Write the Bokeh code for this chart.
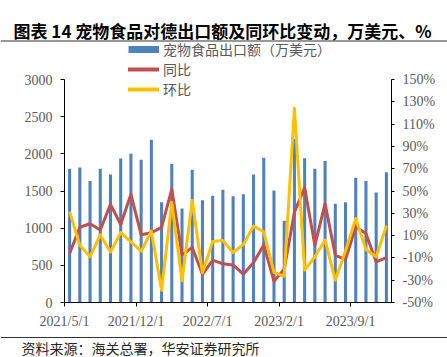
from bokeh.plotting import figure
from bokeh.models import (Range1d, LinearAxis, FixedTicker, PrintfTickFormatter,
                          Legend, LegendItem, Label, Span, ColumnDataSource)
from bokeh.core.properties import value
from bokeh.embed import file_html
from bokeh.resources import INLINE

# ---- data ----
months = [f"{y}/{m}" for y, m in
          [(2021, m) for m in range(5, 13)] + [(2022, m) for m in range(1, 13)] + [(2023, m) for m in range(1, 13)]]
export = [1800, 1817, 1633, 1800, 1723, 1938, 2000, 1920, 2189, 1347, 1867,
          1266, 1786, 1374, 1437, 1517, 1428, 1455, 1721, 1947, 1506, 1100,
          2200, 1940, 1800, 1902, 1330, 1347, 1679, 1636, 1479, 1752]
yoy = [-6, 17.5, 20.6, 15, 38, 20, 47, 10.8, 12.6, 17.4, 51.7,
       -7.5, -0.6, -24.7, -12, -15.3, -16.3, -24.6, -14.2, 1.6, -31, -20.2,
       31, 53, 1.3, 38.7, -7.6, -11.5, 17.8, 11.8, -13.6, -9.7]
mom = [31.4, 1.3, -9, 10.6, -4.7, 12.7, 4.3, -4, 14, -39, 39.6,
       -30.5, 41.6, -23.3, 4.8, 5.5, -5.2, 2.1, 18.5, 13.4, -22.9, -26.5,
       124.3, -21, -9, 6, -30, -3.7, 25.2, -2.5, -9, 18.7]
tick_pos = [0, 7, 14, 21, 28]
tick_labels = ["2021/5/1", "2021/12/1", "2022/7/1", "2023/2/1", "2023/9/1"]
left_ticks = [0, 500, 1000, 1500, 2000, 2500, 3000]
right_ticks = [-50, -30, -10, 10, 30, 50, 70, 90, 110, 130, 150]

title_text = "图表 14 宠物食品对德出口额及同环比变动，万美元、%"
source_text = "资料来源：海关总署，华安证券研究所"
names = ["宠物食品出口额（万美元）", "同比", "环比"]

n = len(months)
src = ColumnDataSource(dict(x=[i + 0.5 for i in range(n)],
                            month=months, export=export, yoy=yoy, mom=mom))

# ---- layout geometry (canvas pixels) ----
W, H = 447, 357
PL, PR, PT, PB = 64, 391, 79, 302          # plot-area edges
ymax_l, ymin_r, ymax_r = 3000, -50, 150
sx = (PR - PL) / n
sy_l = ymax_l / (PB - PT)
sy_r = (ymax_r - ymin_r) / (PB - PT)

x_range = Range1d(-PL / sx, n + (W - PR) / sx)
y_range = Range1d(-(H - PB) * sy_l, ymax_l + PT * sy_l)
pct_range = Range1d(ymin_r - (H - PB) * sy_r, ymax_r + PT * sy_r)

p = figure(width=W, height=H, output_backend="svg", toolbar_location=None,
           x_range=x_range, y_range=y_range,
           min_border_left=0, min_border_right=0, min_border_top=0, min_border_bottom=0)
p.title.visible = False
p.extra_y_ranges = {"pct": pct_range}
p.xgrid.visible = False
p.ygrid.visible = False
p.outline_line_color = None
p.background_fill_color = "white"
p.border_fill_color = "white"

serif = "Liberation Serif"
gray = "#595959"

def style_axis(ax):
    ax.axis_line_color = "black"
    ax.major_tick_line_color = "black"
    ax.minor_tick_line_color = None
    ax.major_tick_in = 0
    ax.major_tick_out = 4
    ax.major_label_text_font = serif
    ax.major_label_text_font_size = "14px"
    ax.major_label_text_color = gray

ya = p.yaxis[0]
ya.ticker = FixedTicker(ticks=left_ticks)
ya.fixed_location = 0
ya.bounds = (0, ymax_l)
style_axis(ya)
ya.major_label_standoff = 8

xa = p.xaxis[0]
xa.ticker = FixedTicker(ticks=tick_pos)
xa.major_label_overrides = {t: l for t, l in zip(tick_pos, tick_labels)}
xa.fixed_location = 0
xa.bounds = (0, n)
style_axis(xa)
xa.major_label_standoff = 7

ra = LinearAxis(y_range_name="pct", ticker=FixedTicker(ticks=right_ticks),
                formatter=PrintfTickFormatter(format="%d%%"))
ra.fixed_location = n
ra.bounds = (ymin_r, ymax_r)
style_axis(ra)
ra.major_tick_out = 3
ra.major_label_standoff = 8
p.add_layout(ra, "right")

p.vbar(x="x", top="export", width=0.3, source=src, fill_color="#4F81BD", line_color=None)
p.line(x="x", y="yoy", source=src, y_range_name="pct", line_color="#C0504D",
       line_width=3, line_join="round")
p.line(x="x", y="mom", source=src, y_range_name="pct", line_color="#FFC000",
       line_width=3, line_join="round")

# legend-only renderers (data lies outside the visible ranges)
off_x, off_y = [-1000, -999], [-1e7, -1e7]
lb = p.line(x=off_x, y=off_y, line_color="#4F81BD", line_width=7)
lr = p.line(x=off_x, y=off_y, line_color="#C0504D", line_width=4, line_cap="round")
ly = p.line(x=off_x, y=off_y, line_color="#FFC000", line_width=4, line_cap="round")

legend = Legend(items=[LegendItem(label=value(names[0]), renderers=[lb]),
                       LegendItem(label=value(names[1]), renderers=[lr]),
                       LegendItem(label=value(names[2]), renderers=[ly])],
                location=(128, H - 99),
                orientation="vertical", glyph_width=31, glyph_height=18,
                label_height=18, spacing=0, padding=0, margin=0, label_standoff=4,
                border_line_color=None, background_fill_alpha=0,
                label_text_font="Noto Sans CJK SC", label_text_font_size="14px",
                label_text_color=gray)
p.add_layout(legend)

p.add_layout(Label(x=13, y=H - 29.5, x_units="screen", y_units="screen",
                   text=title_text, text_font="Noto Sans CJK SC", text_font_style="bold",
                   text_font_size="17px", text_baseline="middle", text_color="black"))
p.add_layout(Label(x=21, y=H - 347, x_units="screen", y_units="screen",
                   text=source_text, text_font="Noto Sans CJK SC",
                   text_font_size="14px", text_baseline="middle", text_color="#262626"))

for cy in (40.5, 337):
    p.add_layout(Span(location=H - cy, location_units="screen", dimension="width",
                      line_color="#333333", line_width=1))

open("out.html", "w").write(file_html(p, INLINE))
